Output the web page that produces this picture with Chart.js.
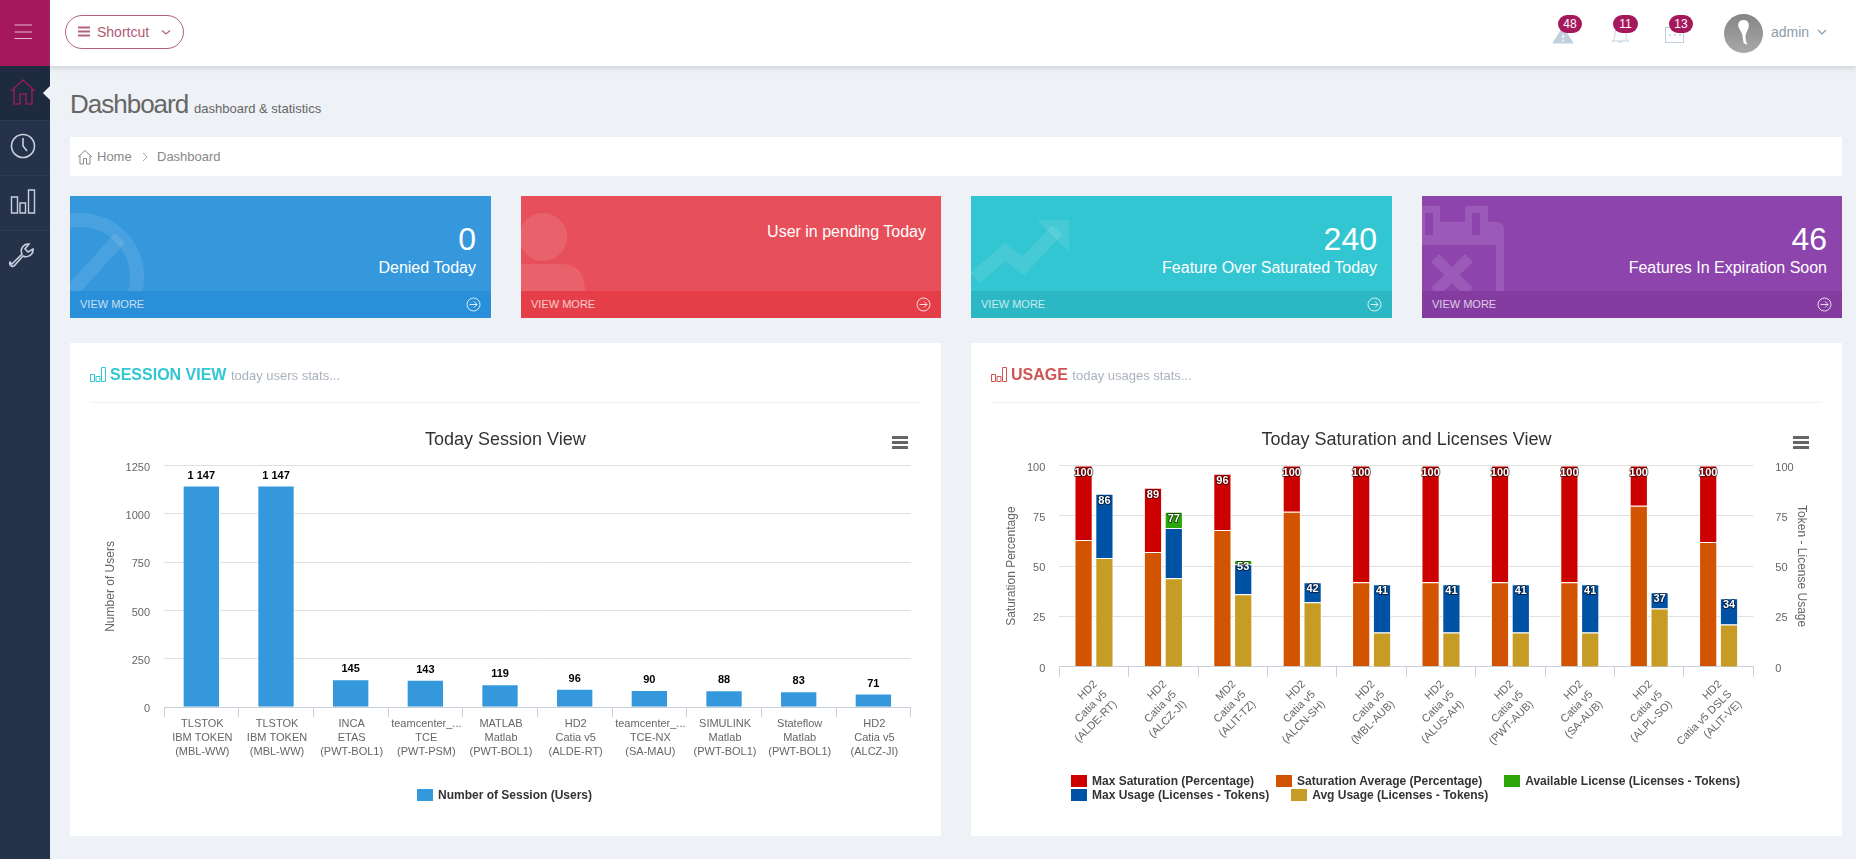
<!DOCTYPE html>
<html>
<head>
<meta charset="utf-8">
<title>Dashboard</title>
<script src="https://cdn.jsdelivr.net/npm/chart.js@4/dist/chart.umd.js"></script>
<style>
* { box-sizing: border-box; }
html, body { margin: 0; width: 1856px; height: 859px; overflow: hidden; background: #eef1f5; font-family: "Liberation Sans", Arial, sans-serif; }
.abs, .abs-text { position: absolute; }
.abs-text { white-space: nowrap; line-height: 1; }
#side { left: 0; top: 0; width: 50px; height: 859px; background: #25324a; }
#brand { left: 0; top: 0; width: 50px; height: 66px; background: #a5195c; }
#active { left: 0; top: 66px; width: 50px; height: 54px; background: #1d2a40; }
.sep { left: 0; width: 50px; height: 1px; background: #2d3b55; }
#notch { left: 45px; top: 88px; width: 10px; height: 10px; background: #eef1f5; transform: rotate(45deg); }
#top { left: 50px; top: 0; width: 1806px; height: 66px; background: #fff; box-shadow: 0 2px 5px rgba(100,110,130,.25); }
#shortcut { left: 65px; top: 15px; width: 119px; height: 34px; border: 1px solid #b4627a; border-radius: 17px; }
.badge { top: 15px; height: 18px; border-radius: 9px; background: #a5195c; color: #fff; font-size: 12px; line-height: 18px; text-align: center; }
#avatar { left: 1724px; top: 14px; width: 39px; height: 39px; border-radius: 50%; background: linear-gradient(#858585, #a8a8a8); overflow: hidden; }
#crumb { left: 70px; top: 137px; width: 1772px; height: 39px; background: #fff; }
.card { top: 196px; height: 122px; overflow: hidden; color: #fff; }
.card svg { position: absolute; left: 0; top: 0; }
.card .foot { position: absolute; left: 0; right: 0; bottom: 0; height: 27px; }
.card .more { position: absolute; left: 10px; top: 8px; font-size: 11px; line-height: 1; opacity: .72; }
.card .num { position: absolute; right: 15px; top: 27px; font-size: 32px; line-height: 32px; }
.card .desc { position: absolute; right: 15px; top: 63px; font-size: 16px; line-height: 18px; }
.card svg.arrow { left: auto; right: 10px; top: 6px; }
.panel { top: 343px; width: 871px; height: 493px; background: #fff; }
.panel canvas { position: absolute; left: 0; top: 0; }
.panel .hr { position: absolute; left: 20px; top: 59px; width: 831px; height: 1px; background: #eef1f5; }
.panel .head { position: absolute; left: 40px; top: 24px; font-size: 16px; font-weight: bold; line-height: 16px; white-space: nowrap; }
.panel .head span { font-size: 13px; font-weight: normal; color: #aab3bd; }
.panel svg.ico { position: absolute; left: 20px; top: 24px; }
.panel .menu { position: absolute; left: 822px; top: 93px; width: 16px; height: 13px; border-top: 3px solid #666; border-bottom: 3px solid #666; }
.panel .menu:after { content: ""; position: absolute; left: 0; right: 0; top: 2px; height: 3px; background: #666; }
.legend { position: absolute; font-size: 12px; font-weight: bold; color: #333; line-height: 14px; }
.legend .row { display: flex; gap: 22px; height: 14px; white-space: nowrap; }
.legend .item { display: flex; align-items: center; }
.legend i { display: block; width: 16px; height: 12px; margin-right: 5px; }
</style>
</head>
<body>
<div class="abs" id="side"></div>
<div class="abs" id="brand"></div>
<div class="abs" id="active"></div>
<div class="abs sep" style="top:120px"></div>
<div class="abs sep" style="top:175px"></div>
<div class="abs sep" style="top:230px"></div>
<div class="abs" id="top"></div>
<div class="abs" id="notch"></div>

<svg class="abs" style="left:0;top:0" width="50" height="290" fill="none" stroke-width="1.6">
  <path d="M14.5 32H32M14.5 25H32M14.5 38.5H32" stroke="#e6b8cf" stroke-width="1"/>
  <path d="M11 91L23 80L35 91M14 88V104H20V94H26V104H32V88" stroke="#8b1e5c"/>
  <g stroke="#c5d0dc">
    <circle cx="23" cy="146" r="11.5"/><path d="M23 138V146L27 151"/>
    <path d="M11.500 197v16h6v-16zM20 203v10h5.500v-10zM28.500 190v23h6v-23z" stroke-width="1.4"/>
    <path d="M13 263l10-10a7 7 0 0 1 7-10l-4 5 3 3 5-3a7 7 0 0 1-10 7l-9 10a3 3 0 0 1-4-4z" transform="translate(-1,1)"/>
  </g>
</svg>

<div class="abs" id="shortcut"></div>
<svg class="abs" style="left:78px;top:26px" width="100" height="12" fill="none">
  <path d="M0 1.5H12M0 5.5H12M0 9.5H12" stroke="#b4627a" stroke-width="2"/>
  <path d="M84 4.5L88 8L92 4.5" stroke="#b4627a" stroke-width="1.2"/>
</svg>
<div class="abs-text" style="left:97px;top:25px;font-size:14px;color:#b05a74">Shortcut</div>

<svg class="abs" style="left:1550px;top:24px" width="140" height="22" fill="none" stroke="#c2d0de">
  <path d="M3 19L13 3L23 19z" fill="#c2d0de"/><path d="M13 11V14M13 15.500V17.500" stroke="#fff" stroke-width="1.500"/>
  <path d="M62 17c3-2 3-4 3-8a5 5 0 0 1 11 0c0 4 0 6 3 8zM68 17a3 3 0 0 0 5 0"/>
  <rect x="115.500" y="3.500" width="18" height="15"/><path d="M119 11h2M124 11h2M129 11h2" stroke-width="1.500"/>
</svg>
<div class="abs badge" style="left:1558px;width:24px">48</div>
<div class="abs badge" style="left:1613px;width:25px">11</div>
<div class="abs badge" style="left:1669px;width:24px">13</div>
<div class="abs" id="avatar"><svg width="39" height="39"><path d="M19.500 6c5 0 6 4 5 8c-1 3-3 5-3 9c0 3 1 6 2 8l-4-2l-1-7c0-3-3-6-4-9c-1-4 1-7 5-7z" fill="#fff"/></svg></div>
<div class="abs-text" style="left:1771px;top:25px;font-size:14px;color:#8b9dad">admin</div>
<svg class="abs" style="left:1817px;top:29px" width="10" height="7" fill="none"><path d="M1 1L5 5L9 1" stroke="#8b9dad" stroke-width="1.200"/></svg>

<div class="abs-text" style="left:70px;top:91px;font-size:26px;letter-spacing:-1px;color:#666">Dashboard</div>
<div class="abs-text" style="left:194px;top:102px;font-size:13px;color:#666">dashboard &amp; statistics</div>

<div class="abs" id="crumb"></div>
<svg class="abs" style="left:77px;top:149px" width="80" height="16" fill="none" stroke="#888">
  <path d="M1 8L8 1.500L15 8M3 6.500V15H6.500V9.500H9.500V15H13V6.500"/>
  <path d="M66 4L70 8L66 12" stroke="#aaa"/>
</svg>
<div class="abs-text" style="left:97px;top:150px;font-size:13px;color:#888">Home</div>
<div class="abs-text" style="left:157px;top:150px;font-size:13px;color:#888">Dashboard</div>

<div class="abs card" style="left:70px;width:421px;background:#3598dc">
  <svg width="421" height="122" fill="none" stroke="#fff" stroke-opacity=".1"><circle cx="10" cy="81" r="57" stroke-width="14"/><path d="M50 42L-10 108" stroke-width="14"/></svg>
  <div class="num">0</div><div class="desc">Denied Today</div>
  <div class="foot" style="background:#2a8fd9"><div class="more">VIEW MORE</div>
  <svg class="arrow" width="15" height="15" fill="none" stroke="#fff" stroke-opacity=".8"><circle cx="7.500" cy="7.500" r="6.500"/><path d="M3.500 7.500H11M8 4.500L11 7.500L8 10.500"/></svg></div>
</div>
<div class="abs card" style="left:521px;width:420px;background:#e7505a">
  <svg width="420" height="122" fill="#fff" fill-opacity=".1"><circle cx="22" cy="41" r="24"/><path d="M-20 122V92Q-20 68 5 68H40Q64 68 64 95V122z"/></svg>
  <div class="desc" style="top:27px">User in pending Today</div>
  <div class="foot" style="background:#e53e49"><div class="more">VIEW MORE</div>
  <svg class="arrow" width="15" height="15" fill="none" stroke="#fff" stroke-opacity=".8"><circle cx="7.500" cy="7.500" r="6.500"/><path d="M3.500 7.500H11M8 4.500L11 7.500L8 10.500"/></svg></div>
</div>
<div class="abs card" style="left:971px;width:421px;background:#32c5d2">
  <svg width="421" height="122" fill="none" stroke="#fff" stroke-opacity=".1"><path d="M4 82L34 56L52 70L86 34" stroke-width="14"/><path d="M66 24H98V56z" fill="#fff" fill-opacity=".1" stroke="none"/></svg>
  <div class="num">240</div><div class="desc">Feature Over Saturated Today</div>
  <div class="foot" style="background:#2bb8c4"><div class="more">VIEW MORE</div>
  <svg class="arrow" width="15" height="15" fill="none" stroke="#fff" stroke-opacity=".8"><circle cx="7.500" cy="7.500" r="6.500"/><path d="M3.500 7.500H11M8 4.500L11 7.500L8 10.500"/></svg></div>
</div>
<div class="abs card" style="left:1422px;width:420px;background:#8e44ad">
  <svg width="420" height="122" fill="#fff" fill-opacity=".12"><path fill-rule="evenodd" d="M0 10H18V26H43V10H66V26H74Q82 26 82 34V122H74V49H0zM3 17H11V39H3zM50 17H58V39H50z"/><path d="M13 62L30 79L47 62M13 96L30 79L47 96" fill="none" stroke="#fff" stroke-opacity=".12" stroke-width="11"/></svg>
  <div class="num">46</div><div class="desc">Features In Expiration Soon</div>
  <div class="foot" style="background:#843ca0"><div class="more">VIEW MORE</div>
  <svg class="arrow" width="15" height="15" fill="none" stroke="#fff" stroke-opacity=".8"><circle cx="7.500" cy="7.500" r="6.500"/><path d="M3.500 7.500H11M8 4.500L11 7.500L8 10.500"/></svg></div>
</div>

<div class="abs panel" style="left:70px">
  <canvas id="session-chart" width="871" height="493"></canvas>
  <svg class="ico" width="16" height="15" fill="none" stroke="#32c5d2"><path d="M.5 7.500h4v7h-4zM6 9.500h4v5H6zM11.500.5h4v14h-4z"/></svg>
  <div class="head" style="color:#32c5d2">SESSION VIEW <span>today users stats...</span></div>
  <div class="hr"></div>
  <div class="menu"></div>
  <div class="legend" id="session-legend" style="left:347px;top:445px"></div>
</div>
<div class="abs panel" style="left:971px">
  <canvas id="usage-chart" width="871" height="493"></canvas>
  <svg class="ico" width="16" height="15" fill="none" stroke="#d05454"><path d="M.5 7.500h4v7h-4zM6 9.500h4v5H6zM11.500.5h4v14h-4z"/></svg>
  <div class="head" style="color:#d05454">USAGE <span>today usages stats...</span></div>
  <div class="hr"></div>
  <div class="menu"></div>
  <div class="legend" id="usage-legend" style="left:100px;top:431px"></div>
</div>

<script>
// session chart data
const sessionLabels = [
  ["TLSTOK", "IBM TOKEN", "(MBL-WW)"],
  ["TLSTOK", "IBM TOKEN", "(MBL-WW)"],
  ["INCA", "ETAS", "(PWT-BOL1)"],
  ["teamcenter_...", "TCE", "(PWT-PSM)"],
  ["MATLAB", "Matlab", "(PWT-BOL1)"],
  ["HD2", "Catia v5", "(ALDE-RT)"],
  ["teamcenter_...", "TCE-NX", "(SA-MAU)"],
  ["SIMULINK", "Matlab", "(PWT-BOL1)"],
  ["Stateflow", "Matlab", "(PWT-BOL1)"],
  ["HD2", "Catia v5", "(ALCZ-JI)"],
];
const sessionUsers = [1147, 1147, 145, 143, 119, 96, 90, 88, 83, 71];

// usage chart data
const usageLabels = [
  ["HD2", "Catia v5", "(ALDE-RT)"],
  ["HD2", "Catia v5", "(ALCZ-JI)"],
  ["MD2", "Catia v5", "(ALIT-TZ)"],
  ["HD2", "Catia v5", "(ALCN-SH)"],
  ["HD2", "Catia v5", "(MBL-AUB)"],
  ["HD2", "Catia v5", "(ALUS-AH)"],
  ["HD2", "Catia v5", "(PWT-AUB)"],
  ["HD2", "Catia v5", "(SA-AUB)"],
  ["HD2", "Catia v5", "(ALPL-SO)"],
  ["HD2", "Catia v5 DSLS", "(ALIT-VE)"],
];
const saturationAverage = [63, 57, 68, 77, 42, 42, 42, 42, 80, 62];
const maxSaturation = [37, 32, 28, 23, 58, 58, 58, 58, 20, 38];
const avgUsage = [54, 44, 36, 32, 17, 17, 17, 17, 29, 21];
const maxUsage = [32, 25, 15, 10, 24, 24, 24, 24, 8, 13];
const availableLicense = [0, 8, 2, 0, 0, 0, 0, 0, 0, 0];

const sessionTicks = [0, 250, 500, 750, 1000, 1250];
const percentTicks = [0, 25, 50, 75, 100];

Chart.defaults.font.family = '"Liberation Sans", Arial, sans-serif';
Chart.defaults.color = "#666";
Chart.defaults.animation = false;

const tickFont = { size: 11, lineHeight: 1.27 };
const axisLine = "#c8d0da";

// totals over each bar / stack, like the highcharts stack labels
const totalLabels = {
  id: "totalLabels",
  afterDatasetsDraw(chart, args, opts) {
    const ctx = chart.ctx;
    const tops = {};
    chart.getSortedVisibleDatasetMetas().forEach((meta) => {
      const ds = chart.data.datasets[meta.index];
      meta.data.forEach((bar, i) => {
        const key = (ds.stack || "s") + i;
        if (!tops[key]) tops[key] = { x: bar.x, total: 0, scale: meta.vScale };
        tops[key].total += ds.data[i];
      });
    });
    ctx.save();
    ctx.font = 'bold 11px "Liberation Sans", Arial, sans-serif';
    ctx.textAlign = "center";
    ctx.textBaseline = "middle";
    ctx.lineJoin = "round";
    Object.values(tops).forEach((t) => {
      const y = t.scale.getPixelForValue(t.total) + opts.offset;
      const text = String(t.total).replace(/\B(?=(\d{3})+$)/g, " ");
      ctx.lineWidth = 2;
      ctx.strokeStyle = opts.halo;
      ctx.strokeText(text, t.x, y);
      ctx.fillStyle = opts.color;
      ctx.fillText(text, t.x, y);
    });
    ctx.restore();
  },
};

function fixSize(prop, size) {
  return (scale) => { scale[prop] = size; };
}

function plainTick(value) {
  return String(value);
}

function buildLegend(el, rows) {
  rows.forEach((items) => {
    const row = document.createElement("div");
    row.className = "row";
    items.forEach((ds) => {
      const item = document.createElement("div");
      item.className = "item";
      const box = document.createElement("i");
      box.style.background = ds.backgroundColor;
      item.appendChild(box);
      item.appendChild(document.createTextNode(ds.label));
      row.appendChild(item);
    });
    el.appendChild(row);
  });
}

const sessionData = {
  labels: sessionLabels,
  datasets: [
    {
      label: "Number of Session (Users)",
      data: sessionUsers,
      backgroundColor: "#3598dc",
      borderColor: "#fff",
      borderWidth: 1,
      categoryPercentage: 1,
      barPercentage: 0.5,
    },
  ],
};

new Chart(document.getElementById("session-chart"), {
  type: "bar",
  data: sessionData,
  plugins: [totalLabels],
  options: {
    responsive: false,
    layout: { autoPadding: false, padding: { top: 86, left: 30, right: 30.3, bottom: 58.7 } },
    plugins: {
      legend: { display: false },
      title: { display: true, text: "Today Session View", color: "#333", font: { size: 18, weight: "normal" }, padding: { top: 0, bottom: 15 } },
      totalLabels: { offset: -10, color: "#000", halo: "#fff" },
    },
    scales: {
      x: {
        afterFit: fixSize("height", 70),
        border: { color: axisLine },
        grid: { drawOnChartArea: false, tickColor: axisLine, tickLength: 10 },
        ticks: { font: tickFont, color: "#666", maxRotation: 0, minRotation: 0, autoSkip: false, padding: 0, labelOffset: 1 },
      },
      y: {
        min: 0,
        max: 1250,
        afterFit: fixSize("width", 64),
        afterBuildTicks: (scale) => { scale.ticks = sessionTicks.map((value) => ({ value })); },
        border: { display: false },
        grid: { color: "#e0e0e0", drawTicks: false },
        ticks: { font: { size: 11 }, color: "#666", padding: 14, labelOffset: 2, callback: plainTick },
        title: { display: true, text: "Number of Users", color: "#666", font: { size: 12 }, padding: { top: 3, bottom: 0 } },
      },
    },
  },
});

const usageSeries = {
  saturationAverage: { label: "Saturation Average (Percentage)", data: saturationAverage, stack: "saturation", yAxisID: "y", backgroundColor: "#d35400" },
  maxSaturation: { label: "Max Saturation (Percentage)", data: maxSaturation, stack: "saturation", yAxisID: "y", backgroundColor: "#cc0000" },
  avgUsage: { label: "Avg Usage (Licenses - Tokens)", data: avgUsage, stack: "usage", yAxisID: "y1", backgroundColor: "#c69c24" },
  maxUsage: { label: "Max Usage (Licenses - Tokens)", data: maxUsage, stack: "usage", yAxisID: "y1", backgroundColor: "#0052a5" },
  availableLicense: { label: "Available License (Licenses - Tokens)", data: availableLicense, stack: "usage", yAxisID: "y1", backgroundColor: "#2ca50a" },
};

const usageData = {
  labels: usageLabels,
  datasets: Object.values(usageSeries).map((s) => ({
    ...s,
    borderColor: "#fff",
    borderWidth: 1,
    categoryPercentage: 0.6,
    barPercentage: 0.875,
  })),
};

const percentAxis = {
  stacked: true,
  min: 0,
  max: 100,
  afterBuildTicks: (scale) => { scale.ticks = percentTicks.map((value) => ({ value })); },
  border: { display: false },
};

new Chart(document.getElementById("usage-chart"), {
  type: "bar",
  data: usageData,
  plugins: [totalLabels],
  options: {
    responsive: false,
    layout: { autoPadding: false, padding: { top: 86, left: 30, right: 30, bottom: 69.3 } },
    plugins: {
      legend: { display: false },
      title: { display: true, text: "Today Saturation and Licenses View", color: "#333", font: { size: 18, weight: "normal" }, padding: { top: 0, bottom: 15 } },
      totalLabels: { offset: 7, color: "#fff", halo: "rgba(0,0,0,.55)" },
    },
    scales: {
      x: {
        stacked: true,
        afterFit: fixSize("height", 100),
        border: { color: axisLine },
        grid: { drawOnChartArea: false, tickColor: axisLine, tickLength: 10 },
        ticks: { font: tickFont, color: "#666", maxRotation: 45, minRotation: 45, autoSkip: false, padding: 1, labelOffset: 1.5 },
      },
      y: {
        ...percentAxis,
        position: "left",
        afterFit: fixSize("width", 58.3),
        grid: { color: "#e0e0e0", drawTicks: false },
        ticks: { font: { size: 11 }, color: "#666", padding: 14, labelOffset: 2, callback: plainTick },
        title: { display: true, text: "Saturation Percentage", color: "#666", font: { size: 12 }, padding: { top: 3.5, bottom: 0 } },
      },
      y1: {
        ...percentAxis,
        position: "right",
        afterFit: fixSize("width", 58.7),
        grid: { display: false },
        ticks: { font: { size: 11 }, color: "#666", padding: 14, labelOffset: 2, callback: plainTick },
        title: { display: true, text: "Token - License Usage", color: "#666", font: { size: 12 }, padding: { top: 3, bottom: 0 } },
      },
    },
  },
});

buildLegend(document.getElementById("session-legend"), [[sessionData.datasets[0]]]);
buildLegend(document.getElementById("usage-legend"), [
  [usageSeries.maxSaturation, usageSeries.saturationAverage, usageSeries.availableLicense],
  [usageSeries.maxUsage, usageSeries.avgUsage],
]);
</script>
</body>
</html>
